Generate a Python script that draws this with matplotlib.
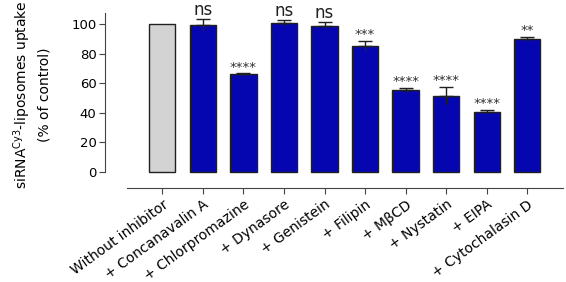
import matplotlib
matplotlib.use("Agg")
import matplotlib.pyplot as plt
import numpy as np

plt.rcParams['font.family'] = ['DejaVu Sans']

categories = ["Without inhibitor", "+ Concanavalin A", "+ Chlorpromazine", "+ Dynasore",
              "+ Genistein", "+ Filipin", "+ M\u03b2CD", "+ Nystatin", "+ EIPA",
              "+ Cytochalasin D"]
values = [100, 99.5, 66, 101, 99, 85.3, 55.6, 51.6, 40.5, 90.2]
errors = [0, 4.0, 0.8, 1.8, 2.3, 3.5, 1.5, 6.0, 1.3, 1.5]
signif = ["", "ns", "****", "ns", "ns", "***", "****", "****", "****", "**"]

fig = plt.figure(figsize=(5.66, 2.82), dpi=100)
ax = fig.add_axes([127/566, 1-187.9/282, (563-127)/566, (187.9-2.2)/282])

x = np.arange(len(categories))
colors = ['#d3d3d3'] + ['#0606b0'] * (len(categories) - 1)
ax.bar(x, values, width=0.65, color=colors, edgecolor='#202020', linewidth=1.0, zorder=2)

for xi, v, e in zip(x, values, errors):
    if e > 0:
        ax.errorbar(xi, v, yerr=[[0], [e]], fmt='none', ecolor='#202020', elinewidth=1.0,
                    capsize=5, capthick=1.0, zorder=3)
        ax.errorbar(xi, v, yerr=[[e], [0]], fmt='none', ecolor='#202020', elinewidth=1.0,
                    capsize=0, zorder=3)

for xi, v, e, s in zip(x, values, errors, signif):
    if not s:
        continue
    if s == "ns":
        ax.text(xi, v + e + 2.8, s, ha='center', va='baseline', fontsize=12, color='#202020')
    else:
        ax.text(xi, v + e + 1.8, s, ha='center', va='baseline', fontsize=9.5, color='#303030')

ax.set_xlim(-0.87, 9.88)
ax.set_ylim(-11, 115)
ax.set_yticks([0, 20, 40, 60, 80, 100])
ax.set_xticks(x)
ax.set_xticklabels(categories, rotation=36, ha='right', rotation_mode='anchor', fontsize=10)
ax.tick_params(axis='y', labelsize=9.5, length=4, width=0.8, color='#444444', pad=2)
ax.tick_params(axis='x', length=4, width=0.8, color='#444444', pad=3)

ax.spines['top'].set_visible(False)
ax.spines['right'].set_visible(False)
ax.spines['left'].set_position(('outward', 16))
ax.spines['left'].set_bounds(0, 108)
ax.spines['left'].set_color('#444444')
ax.spines['bottom'].set_color('#444444')
ax.spines['left'].set_linewidth(0.8)
ax.spines['bottom'].set_linewidth(0.8)

ax.set_ylabel("siRNA$^{\\mathregular{Cy3}}$-liposomes uptake\n(% of control)", fontsize=10,
              labelpad=14, linespacing=1.45)

fig.savefig("out.png", dpi=100)
